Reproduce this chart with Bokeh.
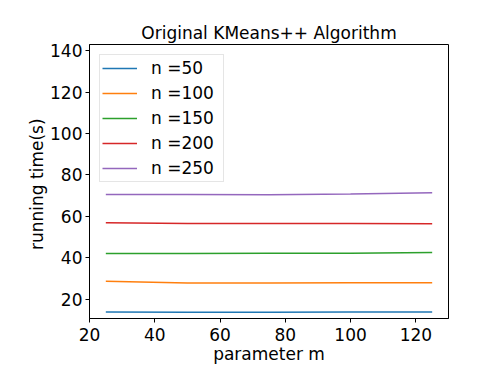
from bokeh.plotting import figure
from bokeh.models import FixedTicker, Range1d, Legend, LegendItem
from bokeh.embed import file_html
from bokeh.resources import INLINE

m_values = [25, 50, 75, 100, 125]
n50 = [13.8, 13.6, 13.6, 13.7, 13.7]
n100 = [28.6, 27.8, 27.8, 27.9, 27.9]
n150 = [42.0, 42.0, 42.1, 42.2, 42.5]
n200 = [56.9, 56.5, 56.5, 56.5, 56.4]
n250 = [70.6, 70.6, 70.4, 70.8, 71.4]
series = [("n =50", n50), ("n =100", n100), ("n =150", n150), ("n =200", n200), ("n =250", n250)]
colors = ["#1f77b4", "#ff7f0e", "#2ca02c", "#d62728", "#9467bd"]
x_ticks = [20, 40, 60, 80, 100, 120]
y_ticks = [20, 40, 60, 80, 100, 120, 140]

FONT = "DejaVu Sans"
FS = "17px"

p = figure(width=490, height=366, output_backend="svg", toolbar_location=None,
           x_range=Range1d(20, 130), y_range=Range1d(10.6, 143.1),
           title="Original KMeans++ Algorithm",
           min_border_left=89, min_border_right=42, min_border_top=44, min_border_bottom=48)

p.title.align = "center"
p.title.text_font = FONT
p.title.text_font_size = FS
p.title.text_font_style = "normal"
p.title.text_color = "black"
p.title.standoff = 4

items = []
for (label, ys), c in zip(series, colors):
    r = p.line(m_values, ys, line_color=c, line_width=1.5)
    items.append(LegendItem(label=label, renderers=[r]))

legend = Legend(items=items, location="top_left", margin=10,
                label_text_font=FONT, label_text_font_size=FS, label_text_color="black",
                glyph_width=35, glyph_height=22, label_height=22, label_width=70,
                label_standoff=14, spacing=3, padding=2,
                border_line_color="#cccccc", border_line_width=1,
                background_fill_alpha=0.8)
p.add_layout(legend)

p.xgrid.visible = False
p.ygrid.visible = False
p.outline_line_color = "black"
p.outline_line_width = 1

p.xaxis.ticker = FixedTicker(ticks=x_ticks)
p.yaxis.ticker = FixedTicker(ticks=y_ticks)
for ax in (p.xaxis, p.yaxis):
    ax.axis_line_color = "black"
    ax.major_tick_line_color = "black"
    ax.major_tick_out = 4
    ax.major_tick_in = 0
    ax.minor_tick_line_color = None
    ax.major_label_text_font = FONT
    ax.major_label_text_font_size = FS
    ax.major_label_text_color = "black"
    ax.axis_label_text_font = FONT
    ax.axis_label_text_font_size = FS
    ax.axis_label_text_font_style = "normal"
    ax.axis_label_text_color = "black"

p.xaxis.axis_label = "parameter m"
p.yaxis.axis_label = "running  time(s)"
p.xaxis.major_label_standoff = 5
p.yaxis.major_label_standoff = 3
p.xaxis.axis_label_standoff = 0
p.yaxis.axis_label_standoff = 0

open("out.html", "w").write(file_html(p, INLINE))
